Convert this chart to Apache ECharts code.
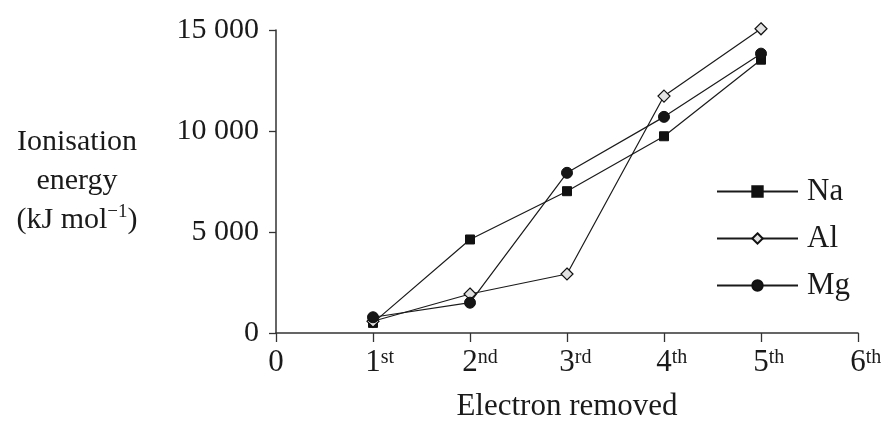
<!DOCTYPE html>
<html>
<head>
<meta charset="utf-8">
<script src="https://cdn.jsdelivr.net/npm/echarts@6/dist/echarts.min.js"></script>
<style>
html,body{margin:0;padding:0;background:#fff;}
#chart{width:888px;height:430px;}
</style>
</head>
<body>
<div id="chart"></div>
<script>
// Data
var categories = ['0', '1st', '2nd', '3rd', '4th', '5th', '6th'];
var seriesNames = ['Na', 'Al', 'Mg'];
var naValues = ['-', 500, 4630, 7020, 9740, 13530, '-'];
var alValues = ['-', 580, 1930, 2920, 11730, 15060, '-'];
var mgValues = ['-', 780, 1500, 7930, 10700, 13830, '-'];
var yTicks = { min: 0, max: 15000, interval: 5000 };

var FONT = 'Liberation Serif';
var INK = '#1a1a1a';

function fmtThousands(v) {
  return String(v).replace(/\B(?=(\d{3})+(?!\d))/g, ' ');
}

var chart = echarts.init(document.getElementById('chart'), null, { renderer: 'canvas' });

var lineStyle = { color: INK, width: 1.2 };

var option = {
  animation: false,
  backgroundColor: '#fff',
  grid: { left: 276, right: 30, top: 30, bottom: 97, containLabel: false },
  legend: {
    data: seriesNames,
    orient: 'vertical',
    left: 716,
    top: 176,
    itemWidth: 81,
    itemHeight: 13,
    itemGap: 16,
    padding: 0,
    textStyle: { fontFamily: FONT, fontSize: 31, color: INK, lineHeight: 30, padding: [0, 0, 0, 4] }
  },
  xAxis: {
    type: 'category',
    data: categories,
    boundaryGap: false,
    name: 'Electron removed',
    nameLocation: 'middle',
    nameGap: 58,
    nameTextStyle: { fontFamily: FONT, fontSize: 31, color: INK },
    axisLine: { lineStyle: { color: '#333', width: 1.5 } },
    axisTick: { show: true, length: 9, alignWithLabel: true, lineStyle: { color: '#333', width: 1.3 } },
    axisLabel: {
      margin: 13,
      interval: 0,
      formatter: function (v) {
        var m = v.match(/^(\d+)(\D*)$/);
        if (!m || !m[2]) return '{n|' + v + '}';
        return '{h|' + m[2] + '}{n|' + m[1] + '}{s|' + m[2] + '}';
      },
      rich: {
        n: { fontFamily: FONT, fontSize: 31, color: INK, lineHeight: 34, verticalAlign: 'middle' },
        s: { fontFamily: FONT, fontSize: 20, color: INK, lineHeight: 34, verticalAlign: 'top', padding: [2, 0, 0, 0] },
        h: { fontFamily: FONT, fontSize: 20, color: 'rgba(0,0,0,0)', lineHeight: 34, verticalAlign: 'top', padding: [2, 0, 0, 0] }
      }
    },
    splitLine: { show: false }
  },
  yAxis: {
    type: 'value',
    min: yTicks.min,
    max: yTicks.max,
    interval: yTicks.interval,
    name: 'Ionisation\nenergy\n(kJ mol{s|\u22121})',
    nameLocation: 'middle',
    nameRotate: 0,
    nameGap: 199,
    nameTextStyle: {
      align: 'center',
      verticalAlign: 'middle',
      fontFamily: FONT, fontSize: 30, color: INK, lineHeight: 39,
      rich: {
        s: { fontFamily: FONT, fontSize: 19, color: INK, lineHeight: 39, verticalAlign: 'top', padding: [2, 0, 0, 0] }
      }
    },
    axisLine: { show: true, lineStyle: { color: '#333', width: 1.5 } },
    axisTick: { show: true, length: 7, lineStyle: { color: '#333', width: 1.3 } },
    axisLabel: {
      margin: 17,
      fontFamily: FONT, fontSize: 30, color: INK,
      formatter: fmtThousands
    },
    splitLine: { show: false }
  },
  series: [
    {
      name: 'Na', type: 'line', data: naValues, clip: false,
      symbol: 'rect', symbolSize: 9,
      lineStyle: lineStyle,
      itemStyle: { color: '#111', borderColor: '#111', borderWidth: 1 },
      z: 3
    },
    {
      name: 'Al', type: 'line', data: alValues, clip: false,
      symbol: 'diamond', symbolSize: 12,
      lineStyle: lineStyle,
      itemStyle: { color: '#e2e2e2', borderColor: '#111', borderWidth: 1.2 },
      z: 4
    },
    {
      name: 'Mg', type: 'line', data: mgValues, clip: false,
      symbol: 'circle', symbolSize: 11,
      lineStyle: lineStyle,
      itemStyle: { color: '#151515', borderColor: '#111', borderWidth: 1 },
      z: 5
    }
  ]
};

chart.setOption(option);
</script>
</body>
</html>
